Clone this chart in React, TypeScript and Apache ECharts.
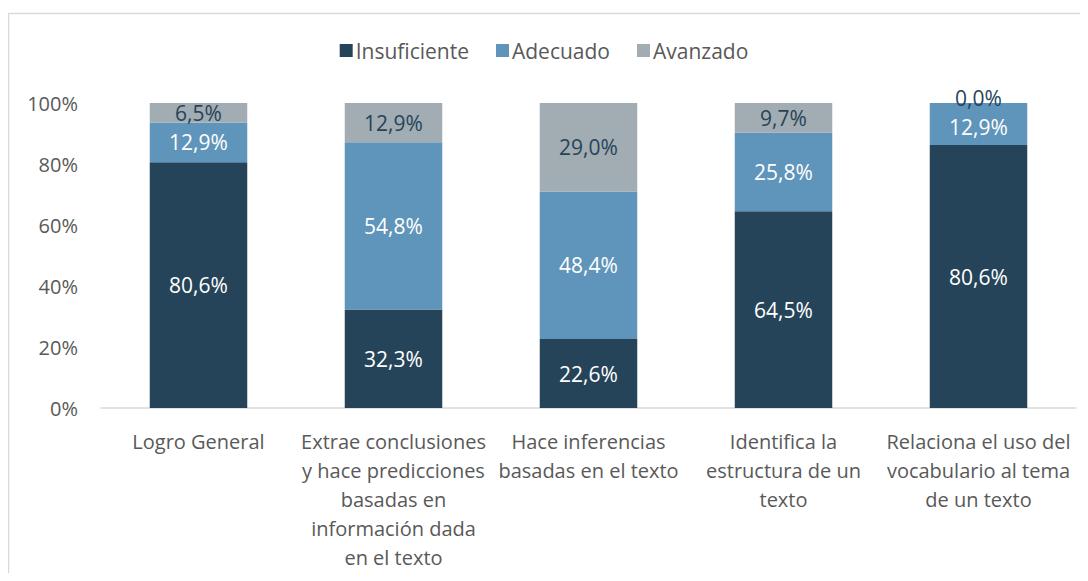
import React, { useEffect, useRef } from "react";
import * as echarts from "echarts";

const categories = [
  "Logro General",
  "Extrae conclusiones\ny hace predicciones\nbasadas en\ninformación dada\nen el texto",
  "Hace inferencias\nbasadas en el texto",
  "Identifica la\nestructura de un\ntexto",
  "Relaciona el uso del\nvocabulario al tema\nde un texto",
];
const insuficiente = [80.6, 32.3, 22.6, 64.5, 80.6];
const adecuado = [12.9, 54.8, 48.4, 25.8, 12.9];
const avanzado = [6.5, 12.9, 29.0, 9.7, 0.0];
const yTicks = [0, 20, 40, 60, 80, 100];

const seriesDefs = [
  { name: "Insuficiente", data: insuficiente, color: "#264459", labelColor: "#ffffff" },
  { name: "Adecuado", data: adecuado, color: "#5F95BA", labelColor: "#ffffff" },
  { name: "Avanzado", data: avanzado, color: "#A2ACB3", labelColor: "#264459" },
];

const FONT = "'Open Sans', 'Noto Sans', sans-serif";

export default function App() {
  const ref = useRef<HTMLDivElement>(null);
  useEffect(() => {
    if (!ref.current) return;
    const chart = echarts.init(ref.current, null, { renderer: "svg" });
    const totals = categories.map((_, i) => insuficiente[i] + adecuado[i] + avanzado[i]);
    chart.setOption({
      animation: false,
      backgroundColor: "#ffffff",
      graphic: [
        {
          type: "rect",
          z: -10,
          silent: true,
          shape: { x: 8.5, y: 13.5, width: 1200, height: 700 },
          style: { fill: "none", stroke: "#D9D9D9", lineWidth: 1.5 },
        },
      ],
      legend: {
        top: 35,
        left: "center",
        itemWidth: 13,
        itemHeight: 13,
        itemGap: 27,
        icon: "rect",
        textStyle: { fontFamily: FONT, fontSize: 21, color: "#595959", padding: [0, 0, 0, -2] },
        data: seriesDefs.map((s) => s.name),
      },
      grid: { left: 101, right: 12, top: 103, bottom: 173, containLabel: false },
      xAxis: {
        type: "category",
        data: categories,
        axisLine: { lineStyle: { color: "#D9D9D9", width: 1.5 } },
        axisTick: { show: false },
        axisLabel: {
          interval: 0,
          margin: 19,
          fontFamily: FONT,
          fontSize: 20,
          lineHeight: 29,
          color: "#595959",
        },
      },
      yAxis: {
        type: "value",
        min: 0,
        max: 100,
        interval: 20,
        splitLine: { show: false },
        axisLine: { show: false },
        axisTick: { show: false },
        axisLabel: {
          margin: 23,
          fontFamily: FONT,
          fontSize: 20,
          color: "#595959",
          formatter: (v: number) => (yTicks.includes(v) ? v + "%" : ""),
        },
      },
      series: seriesDefs.map((s, si) => ({
        name: s.name,
        type: "bar",
        stack: "total",
        barWidth: "50%",
        itemStyle: { color: s.color },
        label: {
          show: true,
          position: "inside",
          fontFamily: FONT,
          fontSize: 21,
          lineHeight: 21,
          color: s.labelColor,
          formatter: (p: any) => s.data[p.dataIndex].toFixed(1).replace(".", ",") + "%",
        },
        data: s.data.map((v, i) => {
          const val = (v / totals[i]) * 100;
          if (v === 0) return { value: val, label: { offset: [0, -5] } };
          if (si === 1 && avanzado[i] === 0) return { value: val, label: { offset: [0, 3] } };
          return val;
        }),
      })),
    });
    return () => chart.dispose();
  }, []);
  return (
    <div style={{ position: "relative", width: 1072, height: 565 }}>
      <div ref={ref} style={{ position: "absolute", left: -8, top: -8, width: 1088, height: 581 }} />
    </div>
  );
}
